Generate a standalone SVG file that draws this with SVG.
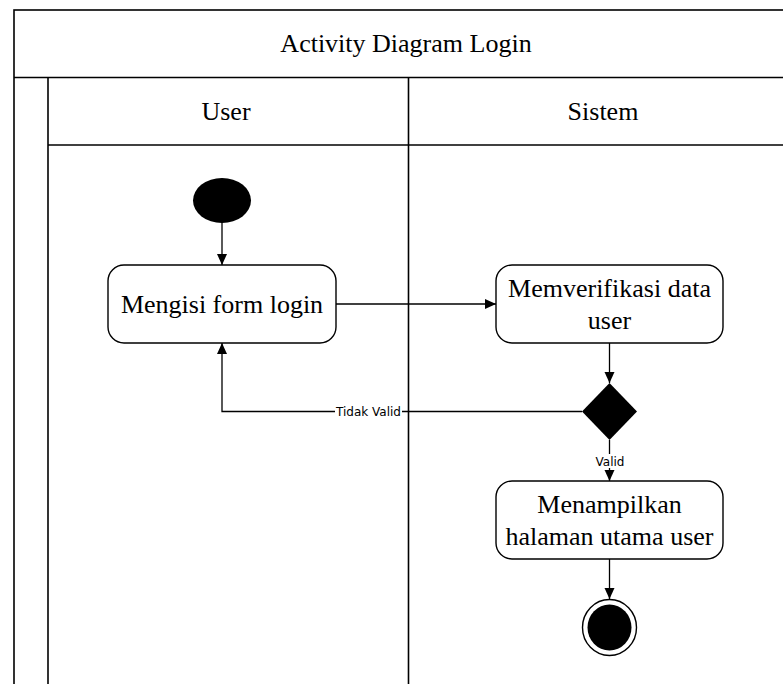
<svg xmlns="http://www.w3.org/2000/svg" width="783" height="684" viewBox="0 0 783 684">
  <style>
    .frame { fill: none; stroke: #000; stroke-width: 1.6; }
    .edge { fill: none; stroke: #000; stroke-width: 1.3; }
    .act { fill: #fff; stroke: #000; stroke-width: 1.4; }
    .serif { font-family: "Liberation Serif", "Times New Roman", serif; font-size: 26px; fill: #000; text-anchor: middle; }
    .lbl { font-family: "DejaVu Sans", Verdana, sans-serif; font-size: 12px; fill: #000; text-anchor: middle; }
  </style>
  <defs>
    <marker id="arrow" markerUnits="userSpaceOnUse" markerWidth="12" markerHeight="12" refX="11" refY="5" orient="auto">
      <path d="M0,0 L11,5 L0,10 z" fill="#000"/>
    </marker>
  </defs>
  <rect width="783" height="684" fill="#fff"/>

  <!-- Pool with title and swimlanes -->
  <g id="pool">
    <rect class="frame" x="14" y="10" width="784" height="700"/>
    <line class="frame" x1="14" y1="77.5" x2="798" y2="77.5"/>
    <text class="serif" x="406" y="52">Activity Diagram Login</text>
  </g>
  <g id="lane-user">
    <line class="frame" x1="48" y1="77.5" x2="48" y2="700"/>
    <line class="frame" x1="48" y1="145" x2="798" y2="145"/>
    <text class="serif" x="226" y="120">User</text>
  </g>
  <g id="lane-sistem">
    <line class="frame" x1="408.5" y1="77.5" x2="408.5" y2="700"/>
    <text class="serif" x="603" y="120">Sistem</text>
  </g>

  <!-- Connectors -->
  <g id="connectors">
    <line class="edge" x1="222" y1="222" x2="222" y2="265" marker-end="url(#arrow)"/>
    <line class="edge" x1="336" y1="304" x2="496" y2="304" marker-end="url(#arrow)"/>
    <line class="edge" x1="609.5" y1="343" x2="609.5" y2="383" marker-end="url(#arrow)"/>
    <polyline class="edge" points="582,411.5 222,411.5 222,343" marker-end="url(#arrow)"/>
    <rect x="335" y="404" width="67" height="15" fill="#fff"/>
    <text class="lbl" x="368.5" y="416">Tidak Valid</text>
    <line class="edge" x1="609.5" y1="440" x2="609.5" y2="481" marker-end="url(#arrow)"/>
    <rect x="595" y="454" width="30" height="14" fill="#fff"/>
    <text class="lbl" x="610" y="466">Valid</text>
    <line class="edge" x1="609.5" y1="559" x2="609.5" y2="599" marker-end="url(#arrow)"/>
  </g>

  <!-- Nodes -->
  <g id="start">
    <ellipse cx="222" cy="200.5" rx="29" ry="22.5" fill="#000"/>
  </g>
  <g id="mengisi-form">
    <rect class="act" x="108" y="265" width="228" height="78" rx="16" ry="16"/>
    <text class="serif" x="222" y="313">Mengisi form login</text>
  </g>
  <g id="verifikasi">
    <rect class="act" x="496" y="265" width="227" height="78" rx="16" ry="16"/>
    <text class="serif" x="609.5" y="297">Memverifikasi data</text>
    <text class="serif" x="609.5" y="328.5">user</text>
  </g>
  <g id="keputusan">
    <polygon points="609.5,383 637,411.5 609.5,440 582,411.5" fill="#000"/>
  </g>
  <g id="halaman-utama">
    <rect class="act" x="496" y="481" width="227" height="78" rx="16" ry="16"/>
    <text class="serif" x="609.5" y="513">Menampilkan</text>
    <text class="serif" x="609.5" y="544.5">halaman utama user</text>
  </g>
  <g id="end">
    <ellipse cx="609.5" cy="627.5" rx="27" ry="28" fill="#fff" stroke="#000" stroke-width="1.4"/>
    <ellipse cx="609.5" cy="627.5" rx="22" ry="23" fill="#000"/>
  </g>
</svg>
